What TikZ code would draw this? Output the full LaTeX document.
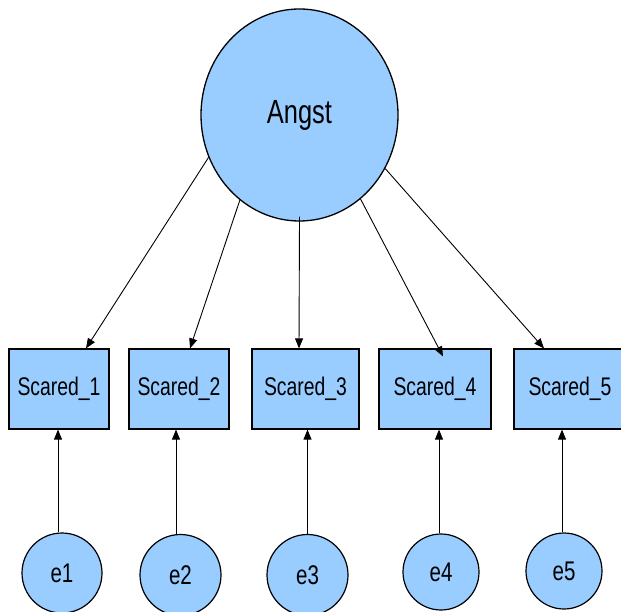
\documentclass[tikz,border=0pt]{standalone}
\usepackage{fontspec}
\setmainfont{Liberation Sans}[FakeStretch=0.76]
\usetikzlibrary{arrows.meta,shapes.geometric}
\definecolor{semblue}{RGB}{153,204,255}
\begin{document}
\begin{tikzpicture}[x=1pt,y=-1pt,
  latent/.style={ellipse,draw=black,fill=semblue,line width=1.3pt,inner sep=0pt,font=\fontsize{33.5}{38}\selectfont},
  obs/.style={rectangle,draw=black,fill=semblue,line width=1.2pt,minimum height=80pt,inner sep=0pt,font=\fontsize{25.5}{30}\selectfont},
  err/.style={circle,draw=black,fill=semblue,line width=1.2pt,inner sep=0pt,font=\fontsize{27}{32}\selectfont},
  arr/.style={-{Triangle[length=10pt,width=8pt]},line width=0.9pt}]
\useasboundingbox (0,0) rectangle (621,612);
\fill[white] (0,0) rectangle (621,612);
% latent
\node[latent,minimum width=197pt,minimum height=212pt] (A) at (299.5,115) {Angst};
% indicators
\node[obs,minimum width=100pt] (s1) at (59,389) {Scared\_1};
\node[obs,minimum width=100pt] (s2) at (179,389) {Scared\_2};
\node[obs,minimum width=107pt] (s3) at (305.5,389) {Scared\_3};
\node[obs,minimum width=112pt] (s4) at (435,389) {Scared\_4};
\node[obs,minimum width=112pt] (s5) at (570,389) {Scared\_5};
% errors
\node[err,minimum size=80pt] (e1) at (62,573) {e1};
\node[err,minimum size=81pt] (e2) at (180.5,575) {e2};
\node[err,minimum size=81pt] (e3) at (307.5,575) {e3};
\node[err,minimum size=76pt] (e4) at (441,572) {e4};
\node[err,minimum size=76pt] (e5) at (564,571) {e5};
% loadings
\draw[arr] (A.205.7) -- ([xshift=27pt]s1.north);
\draw[arr] (A.235.4) -- ([xshift=11pt]s2.north);
\draw[arr] ([yshift=5pt]A.south) -- ([xshift=-6.5pt]s3.north);
\draw[arr] (A.306.4) -- ([xshift=8pt,yshift=-8pt]s4.north);
\draw[arr] (A.328.8) -- ([xshift=-26pt]s5.north);
% error paths
\draw[arr] ([xshift=-4pt]e1.north) -- ([xshift=-4pt]e1.north |- s1.south);
\draw[arr] ([xshift=-4.5pt]e2.north) -- ([xshift=-4.5pt]e2.north |- s2.south);
\draw[arr] (e3.north) -- (e3.north |- s3.south);
\draw[arr] ([xshift=-2pt]e4.north) -- ([xshift=-2pt]e4.north |- s4.south);
\draw[arr] ([xshift=-2pt]e5.north) -- ([xshift=-2pt]e5.north |- s5.south);
\end{tikzpicture}
\end{document}
